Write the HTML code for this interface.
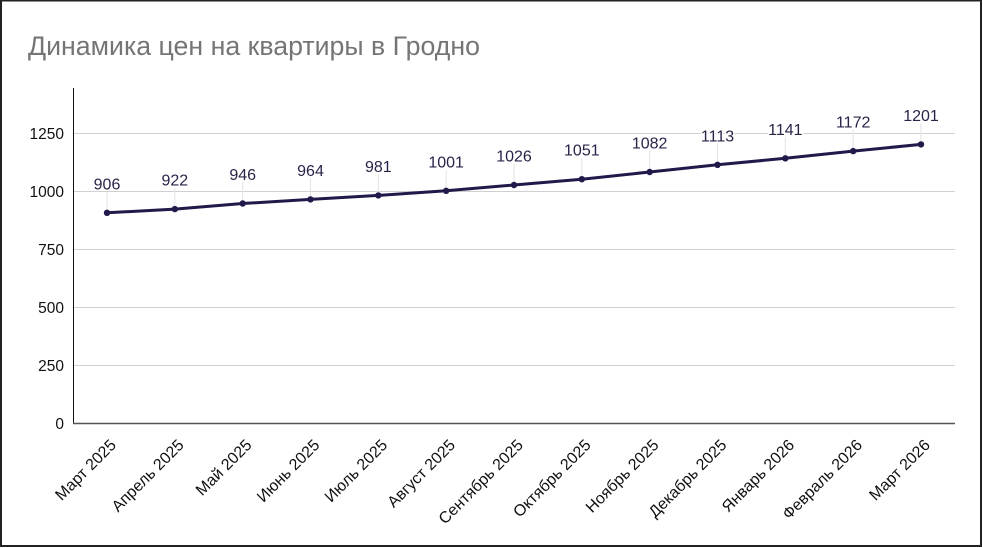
<!DOCTYPE html>
<html>
<head>
<meta charset="utf-8">
<style>
html,body{margin:0;padding:0;background:#fff;}
body{width:983px;height:548px;overflow:hidden;position:relative;}
svg{position:absolute;left:0;top:0;}
</style>
</head>
<body>
<svg width="983" height="548" viewBox="0 0 983 548" xmlns="http://www.w3.org/2000/svg">
  <rect x="0" y="0" width="983" height="548" fill="#fff"/>
  <!-- border -->
  <rect x="0" y="0" width="2" height="547" fill="#222"/>
  <rect x="0" y="0" width="982" height="1.5" fill="#222"/>
  <rect x="980" y="0" width="2" height="547" fill="#222"/>
  <rect x="0" y="545" width="982" height="2" fill="#222"/>

  <!-- title -->
  <text x="28" y="55" font-family="Liberation Sans, Arial, sans-serif" font-size="26.5" fill="#757575" textLength="452" lengthAdjust="spacingAndGlyphs">Динамика цен на квартиры в Гродно</text>

  <!-- gridlines -->
  <g stroke="#d0d0d0" stroke-width="1">
    <line x1="74" y1="133.5" x2="955" y2="133.5"/>
    <line x1="74" y1="191.5" x2="955" y2="191.5"/>
    <line x1="74" y1="249.5" x2="955" y2="249.5"/>
    <line x1="74" y1="307.5" x2="955" y2="307.5"/>
    <line x1="74" y1="365.5" x2="955" y2="365.5"/>
  </g>
  <!-- axes -->
  <line x1="73.5" y1="88" x2="73.5" y2="424" stroke="#111" stroke-width="1"/>
  <line x1="73" y1="423.5" x2="955" y2="423.5" stroke="#555" stroke-width="1.5"/>

  <!-- y labels -->
  <g font-family="Liberation Sans, Arial, sans-serif" font-size="15.5" fill="#111" text-anchor="end">
    <text x="64" y="139">1250</text>
    <text x="64" y="197">1000</text>
    <text x="64" y="255">750</text>
    <text x="64" y="313">500</text>
    <text x="64" y="371">250</text>
    <text x="64" y="429">0</text>
  </g>

  <!-- leader lines -->
  <g stroke="#e2e2e2" stroke-width="1">
    <line x1="107" y1="192" x2="107" y2="212.8"/>
    <line x1="174.83" y1="188" x2="174.83" y2="209.1"/>
    <line x1="242.67" y1="182" x2="242.67" y2="203.5"/>
    <line x1="310.5" y1="178" x2="310.5" y2="199.4"/>
    <line x1="378.33" y1="174" x2="378.33" y2="195.4"/>
    <line x1="446.17" y1="170" x2="446.17" y2="190.8"/>
    <line x1="514" y1="164" x2="514" y2="185"/>
    <line x1="581.83" y1="158" x2="581.83" y2="179.2"/>
    <line x1="649.67" y1="151" x2="649.67" y2="172"/>
    <line x1="717.5" y1="143" x2="717.5" y2="164.8"/>
    <line x1="785.33" y1="137" x2="785.33" y2="158.3"/>
    <line x1="853.17" y1="130" x2="853.17" y2="151.1"/>
    <line x1="921" y1="123" x2="921" y2="144.4"/>
  </g>

  <!-- series line -->
  <polyline fill="none" stroke="#22194b" stroke-width="3" stroke-linejoin="round"
    points="107,212.8 174.83,209.1 242.67,203.5 310.5,199.4 378.33,195.4 446.17,190.8 514,185 581.83,179.2 649.67,172 717.5,164.8 785.33,158.3 853.17,151.1 921,144.4"/>
  <g fill="#22194b">
    <circle cx="107" cy="212.8" r="3.2"/>
    <circle cx="174.83" cy="209.1" r="3.2"/>
    <circle cx="242.67" cy="203.5" r="3.2"/>
    <circle cx="310.5" cy="199.4" r="3.2"/>
    <circle cx="378.33" cy="195.4" r="3.2"/>
    <circle cx="446.17" cy="190.8" r="3.2"/>
    <circle cx="514" cy="185" r="3.2"/>
    <circle cx="581.83" cy="179.2" r="3.2"/>
    <circle cx="649.67" cy="172" r="3.2"/>
    <circle cx="717.5" cy="164.8" r="3.2"/>
    <circle cx="785.33" cy="158.3" r="3.2"/>
    <circle cx="853.17" cy="151.1" r="3.2"/>
    <circle cx="921" cy="144.4" r="3.2"/>
  </g>

  <!-- data labels -->
  <g font-family="Liberation Sans, Arial, sans-serif" font-size="16" fill="#2a2348" text-anchor="middle" stroke="#fff" stroke-width="3" paint-order="stroke" stroke-linejoin="round">
    <text x="107" y="189.5">906</text>
    <text x="174.83" y="185.6">922</text>
    <text x="242.67" y="180">946</text>
    <text x="310.5" y="175.9">964</text>
    <text x="378.33" y="171.9">981</text>
    <text x="446.17" y="167.3">1001</text>
    <text x="514" y="161.5">1026</text>
    <text x="581.83" y="155.7">1051</text>
    <text x="649.67" y="148.5">1082</text>
    <text x="717.5" y="141.3">1113</text>
    <text x="785.33" y="134.8">1141</text>
    <text x="853.17" y="127.6">1172</text>
    <text x="921" y="120.9">1201</text>
  </g>

  <!-- x labels -->
  <g font-family="Liberation Sans, Arial, sans-serif" font-size="16" fill="#111" text-anchor="end">
    <text x="117" y="446" transform="rotate(-45 117 446)">Март 2025</text>
    <text x="184.83" y="446" transform="rotate(-45 184.83 446)">Апрель 2025</text>
    <text x="252.67" y="446" transform="rotate(-45 252.67 446)">Май 2025</text>
    <text x="320.5" y="446" transform="rotate(-45 320.5 446)">Июнь 2025</text>
    <text x="388.33" y="446" transform="rotate(-45 388.33 446)">Июль 2025</text>
    <text x="456.17" y="446" transform="rotate(-45 456.17 446)">Август 2025</text>
    <text x="524" y="446" transform="rotate(-45 524 446)">Сентябрь 2025</text>
    <text x="591.83" y="446" transform="rotate(-45 591.83 446)">Октябрь 2025</text>
    <text x="659.67" y="446" transform="rotate(-45 659.67 446)">Ноябрь 2025</text>
    <text x="727.5" y="446" transform="rotate(-45 727.5 446)">Декабрь 2025</text>
    <text x="795.33" y="446" transform="rotate(-45 795.33 446)">Январь 2026</text>
    <text x="863.17" y="446" transform="rotate(-45 863.17 446)">Февраль 2026</text>
    <text x="931" y="446" transform="rotate(-45 931 446)">Март 2026</text>
  </g>
</svg>
</body>
</html>
